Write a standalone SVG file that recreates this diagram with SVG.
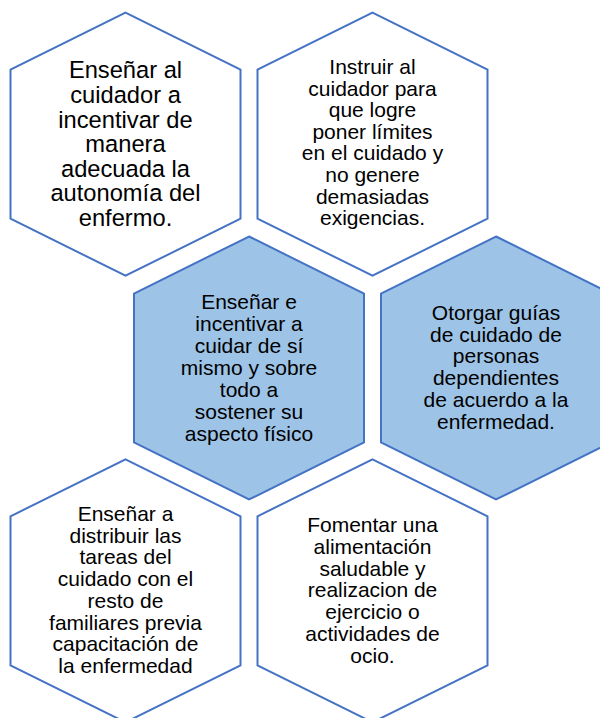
<svg xmlns="http://www.w3.org/2000/svg" width="600" height="718" viewBox="0 0 600 718">
<style>
.hex{stroke:#4472C4;stroke-width:2;stroke-linejoin:miter}
.w{fill:#FFFFFF}
.b{fill:#9DC3E6}
text{font-family:"Liberation Sans",Arial,sans-serif;fill:#000000;text-anchor:middle}
.t1{font-size:23.7px}
.t2{font-size:21px}
</style>
<rect x="0" y="0" width="600" height="718" fill="#FFFFFF"/>
<g id="node1">
<polygon class="hex w" points="125.5,12.7 240.5,69.7 240.5,218.7 125.5,275.7 10.5,218.7 10.5,69.7"/>
<text class="t1"><tspan x="125.5" y="78.3">Enseñar al</tspan><tspan x="125.5" y="102.9">cuidador a</tspan><tspan x="125.5" y="127.5">incentivar de</tspan><tspan x="125.5" y="152.1">manera</tspan><tspan x="125.5" y="176.7">adecuada la</tspan><tspan x="125.5" y="201.3">autonomía del</tspan><tspan x="125.5" y="225.9">enfermo.</tspan></text>
</g>
<g id="node2">
<polygon class="hex w" points="372.5,12.7 487.5,69.7 487.5,218.7 372.5,275.7 257.5,218.7 257.5,69.7"/>
<text class="t2"><tspan x="372.5" y="74">Instruir al</tspan><tspan x="372.5" y="95.6">cuidador para</tspan><tspan x="372.5" y="117.2">que logre</tspan><tspan x="372.5" y="138.8">poner límites</tspan><tspan x="372.5" y="160.4">en el cuidado y</tspan><tspan x="372.5" y="182">no genere</tspan><tspan x="372.5" y="203.6">demasiadas</tspan><tspan x="372.5" y="225.2">exigencias.</tspan></text>
</g>
<g id="node3">
<polygon class="hex b" points="249,236.5 364,293.5 364,442.5 249,499.5 134,442.5 134,293.5"/>
<text class="t2"><tspan x="249" y="309">Enseñar e</tspan><tspan x="249" y="331">incentivar a</tspan><tspan x="249" y="353">cuidar de sí</tspan><tspan x="249" y="375">mismo y sobre</tspan><tspan x="249" y="397">todo a</tspan><tspan x="249" y="419">sostener su</tspan><tspan x="249" y="441">aspecto físico</tspan></text>
</g>
<g id="node4">
<polygon class="hex b" points="496,236.5 611,293.5 611,442.5 496,499.5 381,442.5 381,293.5"/>
<text class="t2"><tspan x="496" y="320">Otorgar guías</tspan><tspan x="496" y="341.7">de cuidado de</tspan><tspan x="496" y="363.4">personas</tspan><tspan x="496" y="385.1">dependientes</tspan><tspan x="496" y="406.8">de acuerdo a la</tspan><tspan x="496" y="428.5">enfermedad.</tspan></text>
</g>
<g id="node5">
<polygon class="hex w" points="125.5,459.3 240.5,516.3 240.5,665.3 125.5,722.3 10.5,665.3 10.5,516.3"/>
<text class="t2"><tspan x="125.5" y="521">Enseñar a</tspan><tspan x="125.5" y="542.7">distribuir las</tspan><tspan x="125.5" y="564.4">tareas del</tspan><tspan x="125.5" y="586.1">cuidado con el</tspan><tspan x="125.5" y="607.8">resto de</tspan><tspan x="125.5" y="629.5">familiares previa</tspan><tspan x="125.5" y="651.2">capacitación de</tspan><tspan x="125.5" y="672.9">la enfermedad</tspan></text>
</g>
<g id="node6">
<polygon class="hex w" points="372.5,459.3 487.5,516.3 487.5,665.3 372.5,722.3 257.5,665.3 257.5,516.3"/>
<text class="t2"><tspan x="372.5" y="531.7">Fomentar una</tspan><tspan x="372.5" y="553.6">alimentación</tspan><tspan x="372.5" y="575.5">saludable y</tspan><tspan x="372.5" y="597.4">realizacion de</tspan><tspan x="372.5" y="619.3">ejercicio o</tspan><tspan x="372.5" y="641.2">actividades de</tspan><tspan x="372.5" y="663.1">ocio.</tspan></text>
</g>
<g id="connectors"/>
</svg>
